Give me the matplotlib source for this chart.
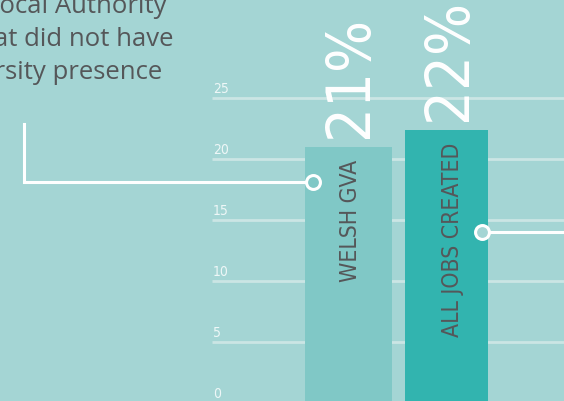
import matplotlib
matplotlib.use("Agg")
import matplotlib.pyplot as plt

# ---- data ----
categories = ["WELSH GVA", "ALL JOBS CREATED"]
values = [21.0, 22.4]
value_labels = ["21%", "22%"]
y_ticks = [0, 5, 10, 15, 20, 25]
note_lines = ["Local Authority", "that did not have", "University presence"]
connector_values = [18.1, 14.0]

# ---- style ----
BG = "#a4d5d4"
BAR_COLORS = ["#80c8c6", "#32b4af"]
GRID = "#cbe5e4"
TXT_DARK = "#555759"
WHITE = "#ffffff"
COND = dict(family=["DejaVu Sans"], fontstretch="condensed")

fig = plt.figure(figsize=(5.64, 4.01), dpi=100)
fig.patch.set_facecolor(BG)
ax = fig.add_axes([0, 0, 1, 1])
ax.set_facecolor(BG)
ax.set_xlim(-3.549, 2.200)
ax.set_ylim(0.16, 33.03)
ax.axis("off")

x = list(range(len(categories)))
grid_left = -1.388

# gridlines and tick labels
for t in y_ticks:
    ax.plot([grid_left, 2.3], [t, t], color=GRID, lw=2.0, zorder=1, solid_capstyle="butt")
    ax.annotate(str(t), (grid_left, t), xytext=(0.5, 1.5), textcoords="offset points",
                ha="left", va="bottom", fontsize=10, color="#eef7f7", zorder=2,
                annotation_clip=False, **COND)

bars = ax.bar(x, values, width=[0.887, 0.843], color=BAR_COLORS, zorder=3)

label_dx = [2, 4.5]
for xi, v, lab, cat, dx in zip(x, values, value_labels, categories, label_dx):
    ax.annotate(lab, (xi, v), xytext=(2, 6), textcoords="offset points",
                rotation=90, ha="center", va="bottom", fontsize=44, color=WHITE,
                zorder=4, **COND)
    ax.annotate(cat, (xi, v), xytext=(dx, -9), textcoords="offset points",
                rotation=90, ha="center", va="top", fontsize=16.5, color=TXT_DARK,
                zorder=4, **COND)

# connectors
lx = 0 - 0.361  # circle near left edge of bar 1
ax.plot([-3.30, -3.30, lx], [22.9, connector_values[0], connector_values[0]],
        color=WHITE, lw=2.2, zorder=5, solid_joinstyle="miter")
ax.plot([lx], [connector_values[0]], marker="o", ms=10, mfc=BAR_COLORS[0],
        mec=WHITE, mew=2.2, zorder=6)
rx = 1 + 0.367
ax.plot([rx, 2.3], [connector_values[1], connector_values[1]], color=WHITE, lw=2.2, zorder=5)
ax.plot([rx], [connector_values[1]], marker="o", ms=10, mfc=BG,
        mec=WHITE, mew=2.2, zorder=6)

# note text (clipped at top-left)
right_edges = [167, 173, 162]
baselines = [13, 46, 79]
for line, rx_px, by in zip(note_lines, right_edges, baselines):
    fig.text(rx_px / 564, 1 - by / 401, line, ha="right", va="baseline",
             fontsize=18.5, color=TXT_DARK, family=["Open Sans", "DejaVu Sans"])

fig.savefig("out.png", dpi=100, facecolor=BG)
